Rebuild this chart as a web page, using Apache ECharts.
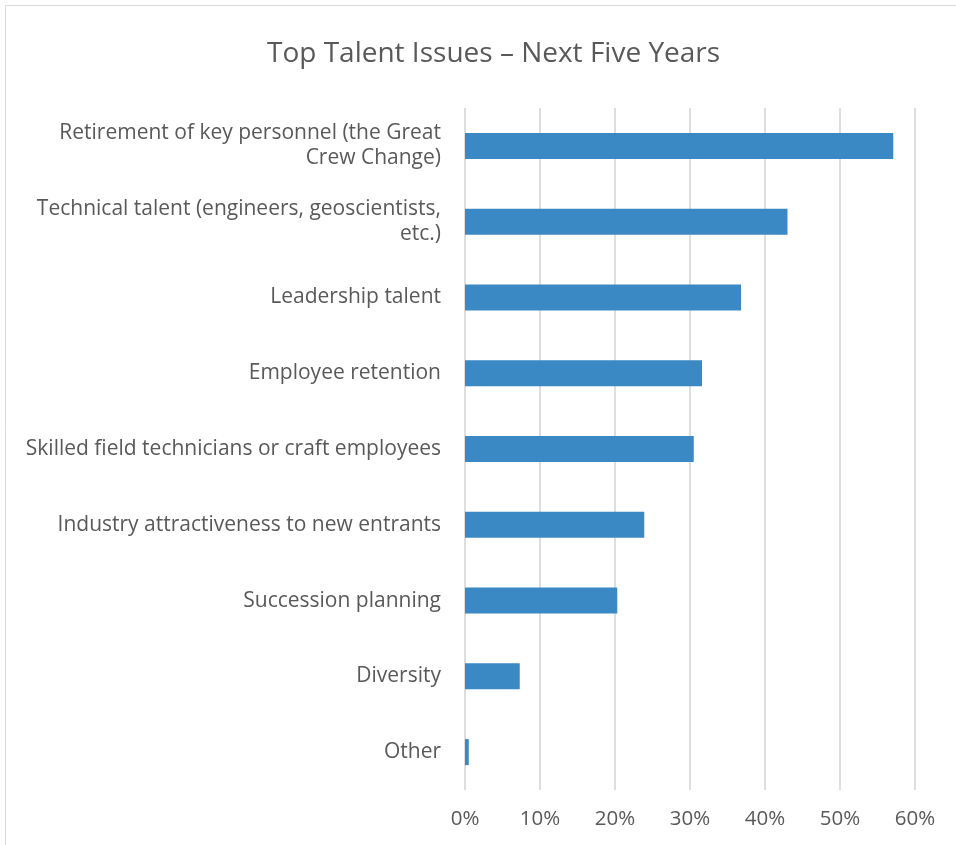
<!DOCTYPE html>
<html><head><meta charset="utf-8">
<script src="https://cdn.jsdelivr.net/npm/echarts@6/dist/echarts.min.js"></script>
<style>html,body{margin:0;padding:0;background:#fff}#c{width:956px;height:845px}</style>
</head><body><div id="c"></div>
<script>
const categories = [
  "Retirement of key personnel (the Great\nCrew Change)",
  "Technical talent (engineers, geoscientists,\netc.)",
  "Leadership talent",
  "Employee retention",
  "Skilled field technicians or craft employees",
  "Industry attractiveness to new entrants",
  "Succession planning",
  "Diversity",
  "Other"
];
const values = [57.1, 43.0, 36.8, 31.6, 30.5, 23.9, 20.3, 7.3, 0.5];
const xTicks = [0, 10, 20, 30, 40, 50, 60];
const titleText = "Top Talent Issues \u2013 Next Five Years";

const chart = echarts.init(document.getElementById('c'));
const FONT = '"Open Sans", "Noto Sans", sans-serif';
chart.setOption({
  animation: false,
  title: {
    text: titleText, left: 262, top: 35,
    textStyle: {fontFamily: FONT, fontSize: 28, fontWeight: 'normal', color: '#595959'}
  },
  graphic: [{
    type: 'rect', shape: {x: 5.5, y: 5.5, width: 960, height: 850},
    style: {fill: 'none', stroke: '#d9d9d9', lineWidth: 1}
  }],
  grid: {left: 465, right: 41, top: 108, bottom: 55},
  xAxis: {
    type: 'value', min: xTicks[0], max: xTicks[xTicks.length - 1], interval: 10,
    axisLine: {show: false}, axisTick: {show: false},
    splitLine: {show: true, lineStyle: {color: '#dedede', width: 2}},
    axisLabel: {formatter: v => v + '%', fontFamily: FONT, fontSize: 20.5, color: '#595959', margin: 19}
  },
  yAxis: {
    type: 'category', data: categories, inverse: true,
    axisLine: {show: false}, axisTick: {show: false},
    axisLabel: {fontFamily: FONT, fontSize: 21, color: '#595959', margin: 24, align: 'right', lineHeight: 25}
  },
  series: [{
    type: 'bar', data: values, barWidth: 26,
    itemStyle: {color: '#3a89c4'}
  }]
});
</script></body></html>
